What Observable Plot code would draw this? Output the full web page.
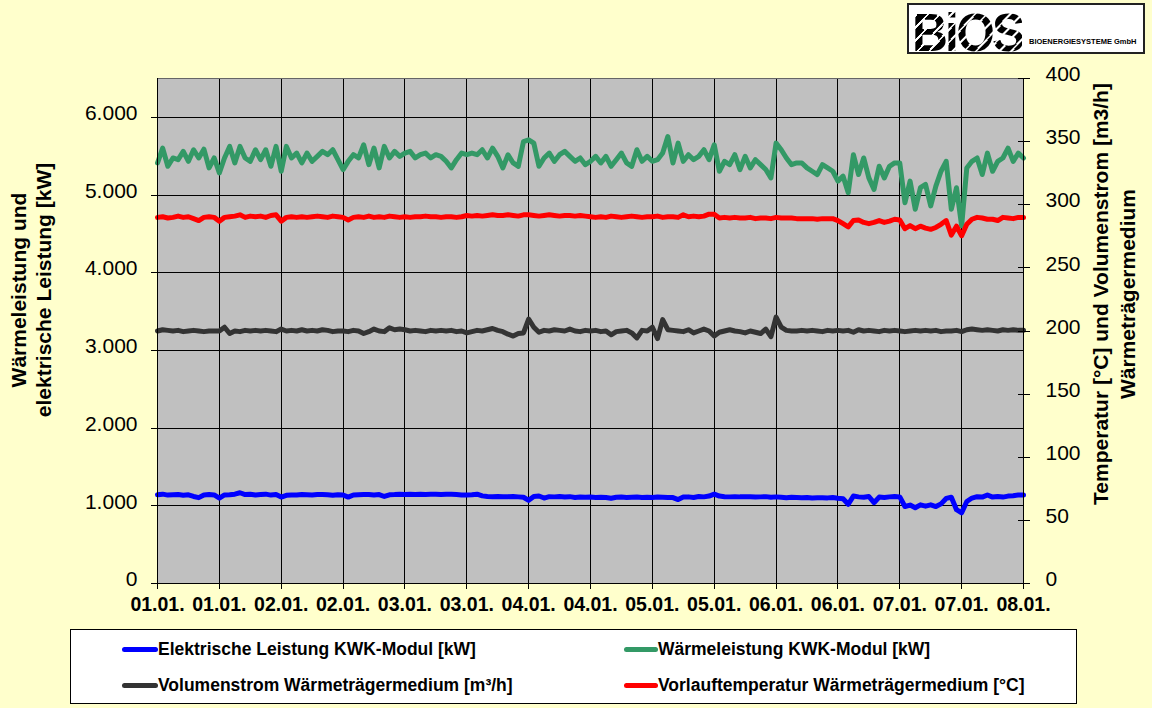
<!DOCTYPE html>
<html><head><meta charset="utf-8">
<script src="https://cdn.jsdelivr.net/npm/d3@7"></script>
<script src="https://cdn.jsdelivr.net/npm/@observablehq/plot@0.6"></script>
<style>
body{margin:0;background:#FFFFCC;font-family:"Liberation Sans",Arial,sans-serif;}
#wrap{position:relative;width:1152px;height:708px;background:#FFFFCC;}
#chart{position:absolute;left:0;top:0;}
#legend{position:absolute;left:70px;top:629px;width:1007px;height:75px;background:#fff;border:1px solid #000;box-sizing:border-box;}
.item{position:absolute;font-weight:bold;font-size:17.5px;color:#000;white-space:nowrap;line-height:20px;height:20px;}
.sw{position:absolute;top:8px;height:5px;border-radius:2.5px;}
#logoBox{position:absolute;left:907px;top:3px;width:238px;height:51px;background:#fff;border:2px solid #222;box-sizing:border-box;}
#logoBig{position:absolute;left:912px;top:1px;font-size:54px;line-height:normal;font-weight:bold;font-family:"Liberation Sans",Arial,sans-serif;letter-spacing:-3px;transform:scaleX(0.92);transform-origin:left top;
 background:repeating-linear-gradient(-45deg,#000 0 7px,#fff 7px 9px);-webkit-background-clip:text;background-clip:text;color:transparent;white-space:nowrap;}
#logoSmall{position:absolute;left:1029px;top:37px;font-size:7.5px;line-height:9px;font-weight:bold;color:#000;white-space:nowrap;}
</style></head>
<body><div id="wrap"><div id="chart"></div>
<div id="logoBox"></div><div id="logoBig">BiOS</div><div id="logoSmall">BIOENERGIESYSTEME GmbH</div>
<div id="legend"></div></div>
<script>
// ---- data (hourly values, 01.01. 00:00 .. 08.01. 00:00) ----
const xLabels = ["01.01.","01.01.","02.01.","02.01.","03.01.","03.01.","04.01.","04.01.","05.01.","05.01.","06.01.","06.01.","07.01.","07.01.","08.01."];
const leftTicks = [0,1000,2000,3000,4000,5000,6000];
const rightTicks = [0,50,100,150,200,250,300,350,400];

// Elektrische Leistung KWK-Modul [kW]
const elektrisch = [
1142,1150,1138,1142,1146,1135,1142,1120,1105,1140,1145,1140,
1100,1140,1142,1150,1168,1145,1150,1140,1145,1150,1138,1145,
1112,1135,1140,1138,1145,1142,1140,1145,1146,1142,1135,1142,
1140,1112,1140,1142,1145,1146,1140,1145,1120,1142,1145,1150,
1146,1148,1145,1150,1146,1148,1150,1146,1150,1148,1146,1140,
1138,1142,1150,1128,1120,1118,1120,1116,1118,1120,1115,1110,
1070,1120,1126,1100,1118,1115,1120,1112,1118,1108,1112,1110,
1112,1108,1110,1106,1098,1110,1112,1108,1110,1112,1106,1110,
1108,1112,1110,1108,1106,1080,1112,1115,1108,1120,1115,1125,
1150,1125,1118,1115,1118,1115,1116,1118,1112,1115,1118,1110,
1115,1110,1105,1110,1108,1105,1108,1100,1103,1105,1102,1108,
1098,1090,1020,1125,1115,1110,1120,1040,1112,1108,1115,1120,
1115,991,1010,975,1013,995,1013,990,1025,1095,1110,950,
910,1055,1100,1118,1112,1140,1112,1120,1112,1125,1130,1140,
1140];

// Wärmeleistung KWK-Modul [kW]
const waerme = [
5413,5604,5370,5477,5455,5562,5434,5583,5477,5590,5349,5477,
5285,5477,5626,5413,5626,5477,5434,5583,5455,5583,5370,5626,
5306,5626,5477,5540,5413,5540,5434,5498,5562,5519,5583,5455,
5328,5434,5519,5477,5647,5391,5604,5349,5626,5477,5562,5498,
5540,5562,5477,5519,5540,5477,5519,5498,5434,5349,5455,5540,
5519,5540,5519,5583,5477,5604,5498,5349,5519,5413,5370,5689,
5711,5668,5370,5477,5540,5434,5519,5562,5498,5434,5477,5391,
5434,5498,5413,5498,5370,5455,5540,5413,5370,5583,5434,5498,
5434,5455,5540,5753,5413,5668,5434,5519,5455,5498,5583,5455,
5647,5306,5434,5391,5519,5328,5498,5349,5455,5391,5328,5221,
5668,5583,5477,5391,5413,5413,5349,5306,5264,5391,5349,5306,
5179,5243,5030,5519,5264,5477,5221,5072,5370,5221,5370,5413,
5413,4902,5179,4817,5094,5136,4860,5115,5306,5434,4817,5094,
4604,5349,5434,5477,5264,5540,5306,5434,5477,5604,5434,5540,
5477];

// Volumenstrom Wärmeträgermedium [m³/h]
const volumen = [
200,201,200.5,200,200.5,199.5,200,200.5,200,199.5,200,200,
200,203,198,200,199.5,200.5,200,200.5,200,200.5,200,199.5,
201.5,200,200.5,200,201,200,200.5,200,201,200.5,199.5,200,
200,199.5,200.5,200,198,199.5,201.5,200,199.5,202.5,201,201.5,
201,200,200.5,200,199.5,200.5,200,200.5,200,200.5,199.5,200,
198.5,199.5,200.5,200,201,202,200.5,199.5,197.5,196,198,198.5,
209.5,203,199,200.5,200,201,200.5,200,201.5,200,199.5,200.5,
200,200.5,199.5,200,197,199.5,200,200.5,198.5,194.5,200.5,200,
203,194,209,201,200.5,200,199.5,201,198.5,200,201.5,200,
196,199,200,201,200,199.5,198.5,200,199,198,201.5,195.5,
211,203,200.5,200,200,200.5,200,200.5,200,199.5,200.5,200,
200.5,200,200.5,199,201,200,200.5,200,199.5,200.5,200,200.5,
200,199.5,200,200.5,200,200.5,200,200.5,199.5,200,200,200.5,
199.5,201,201.5,201,200.5,201,200.5,200,201,200.5,201,200.5,
200.5];

// Vorlauftemperatur Wärmeträgermedium [°C]
const vorlauf = [
290,290.5,289.5,290,291,290,290.5,289,287.5,290,290.5,290,
287,290,290.5,291,292,290,291,290.5,291,290,291.5,292,
287,290,290.5,290,290.5,290,290.5,291,290.5,290,291,290.5,
290,288,290,290.5,290,291,290,290.5,290,291,290.5,290,
290.5,290,290.5,290.5,291,290.5,290.5,290,290.5,290.5,290,290.5,
291.5,291,291.5,291,291.5,292,291.5,291.5,292,291.5,291,292,
292,291.5,291,291.5,292,291.5,291,291.5,291.5,291,291.5,291,
290.5,290,290.5,290,291,290.5,290,290.5,291,290.5,290,290.5,
290.5,291,290,290.5,290.5,290,292,290.5,291,290.5,291,292.5,
292.5,289.5,290,289.5,290,289.5,289.5,290,289,289.5,289.5,289,
290,289.5,289.5,289.5,289,289,289,289,288.5,289,289,289,
287.5,285,282.5,287.5,288,286,285,286,287.5,286,287,288.5,
288,281,283.5,281,283,281.5,280.5,282,284.5,287.5,276,283,
275.5,284.5,288.5,290,289.5,288.5,288.5,287.5,290,289.5,289,290,
290];

const series = [
  {name:"Elektrische Leistung KWK-Modul [kW]", color:"#0000FF", values:elektrisch, right:false},
  {name:"Wärmeleistung KWK-Modul [kW]", color:"#339966", values:waerme, right:false},
  {name:"Volumenstrom Wärmeträgermedium [m³/h]", color:"#333333", values:volumen, right:true},
  {name:"Vorlauftemperatur Wärmeträgermedium [°C]", color:"#FF0000", values:vorlauf, right:true}
];

const leftMax = 6500, rightMax = 400, k = leftMax / rightMax;
const xTicks = xLabels.map((_, i) => i * 12);
const de = d3.formatLocale({decimal:",", thousands:".", grouping:[3], currency:["","€"]});
const fmtLeft = de.format(",");
const font = "Liberation Sans, Arial, sans-serif";

const lineMarks = series.map(s =>
  Plot.line(s.values, {x:(d,i)=>i, y:d=> s.right ? d*k : d, stroke:s.color, strokeWidth:5, strokeLinejoin:"round", strokeLinecap:"round"})
);

const chart = Plot.plot({
  width:1152, height:625,
  marginLeft:157, marginRight:129, marginTop:78, marginBottom:42,
  style:{background:"transparent", fontFamily:font, overflow:"visible", color:"#000"},
  x:{domain:[0,168], axis:null},
  y:{domain:[0,leftMax], axis:null},
  marks:[
    Plot.frame({fill:"#C0C0C0", stroke:null}),
    Plot.ruleY(leftTicks.filter(d=>d>0), {stroke:"#000", strokeWidth:1, shapeRendering:"crispEdges"}),
    Plot.ruleX(xTicks.slice(1,-1), {stroke:"#000", strokeWidth:1, shapeRendering:"crispEdges"}),
    Plot.ruleY([leftMax], {stroke:"#666", strokeWidth:1, shapeRendering:"crispEdges"}),
    ...lineMarks,
    Plot.ruleX([0,168], {stroke:"#000", strokeWidth:1, shapeRendering:"crispEdges"}),
    Plot.ruleY([0], {stroke:"#000", strokeWidth:1, shapeRendering:"crispEdges"}),
    // left axis
    Plot.axisY({ticks:leftTicks, anchor:"left", tickSize:6, text:null, label:null, stroke:"#000", shapeRendering:"crispEdges"}),
    Plot.axisY({ticks:leftTicks, anchor:"left", tickSize:0, tickPadding:20, dy:-4, fontSize:21, tickFormat:fmtLeft, label:null, fill:"#000"}),
    // right axis
    Plot.axisY({ticks:rightTicks.map(d=>d*k), anchor:"right", tickSize:6, text:null, label:null, stroke:"#000", shapeRendering:"crispEdges"}),
    Plot.axisY({ticks:rightTicks.map(d=>d*k), anchor:"right", tickSize:6, dx:-6, text:null, label:null, stroke:"#000", shapeRendering:"crispEdges"}),
    Plot.axisY({ticks:rightTicks.map(d=>d*k), anchor:"right", tickSize:0, tickPadding:22, dy:-4, fontSize:21, tickFormat:d=>String(Math.round(d/k)), label:null, fill:"#000"}),
    // x axis
    Plot.axisX({ticks:xTicks, anchor:"bottom", tickSize:6, tickPadding:8, fontSize:19.5, fontWeight:"bold", tickFormat:d=>xLabels[Math.round(d/12)], label:null, stroke:"#000", fill:"#000", shapeRendering:"crispEdges"}),
    // axis titles
    Plot.text(["Wärmeleistung und\nelektrische Leistung [kW]"], {frameAnchor:"left", dx:-127, dy:-41, rotate:-90, fontSize:21, fontWeight:"bold", lineHeight:1.2, textAnchor:"middle", fill:"#000"}),
    Plot.text(["Temperatur [°C] und Volumenstrom [m3/h]\nWärmeträgermedium"], {frameAnchor:"right", dx:89, dy:-37, rotate:-90, fontSize:21, fontWeight:"bold", lineHeight:1.3, textAnchor:"middle", fill:"#000"})
  ]
});
document.getElementById("chart").appendChild(chart);

// legend
const legend = document.getElementById("legend");
const pos = [
  {sx:51, tx:87, y:9},   // Elektrische
  {sx:553, tx:587, y:9}, // Wärme
  {sx:51, tx:87, y:45},  // Volumen
  {sx:553, tx:587, y:45} // Vorlauf
];
series.forEach((s, i) => {
  const p = pos[i];
  const sw = document.createElement("div");
  sw.className = "sw";
  sw.style.left = p.sx + "px";
  sw.style.top = (p.y + 8) + "px";
  sw.style.width = (p.tx - p.sx) + "px";
  sw.style.background = s.color;
  legend.appendChild(sw);
  const t = document.createElement("div");
  t.className = "item";
  t.style.left = p.tx + "px";
  t.style.top = p.y + "px";
  t.textContent = s.name;
  legend.appendChild(t);
});
</script>
</body></html>
